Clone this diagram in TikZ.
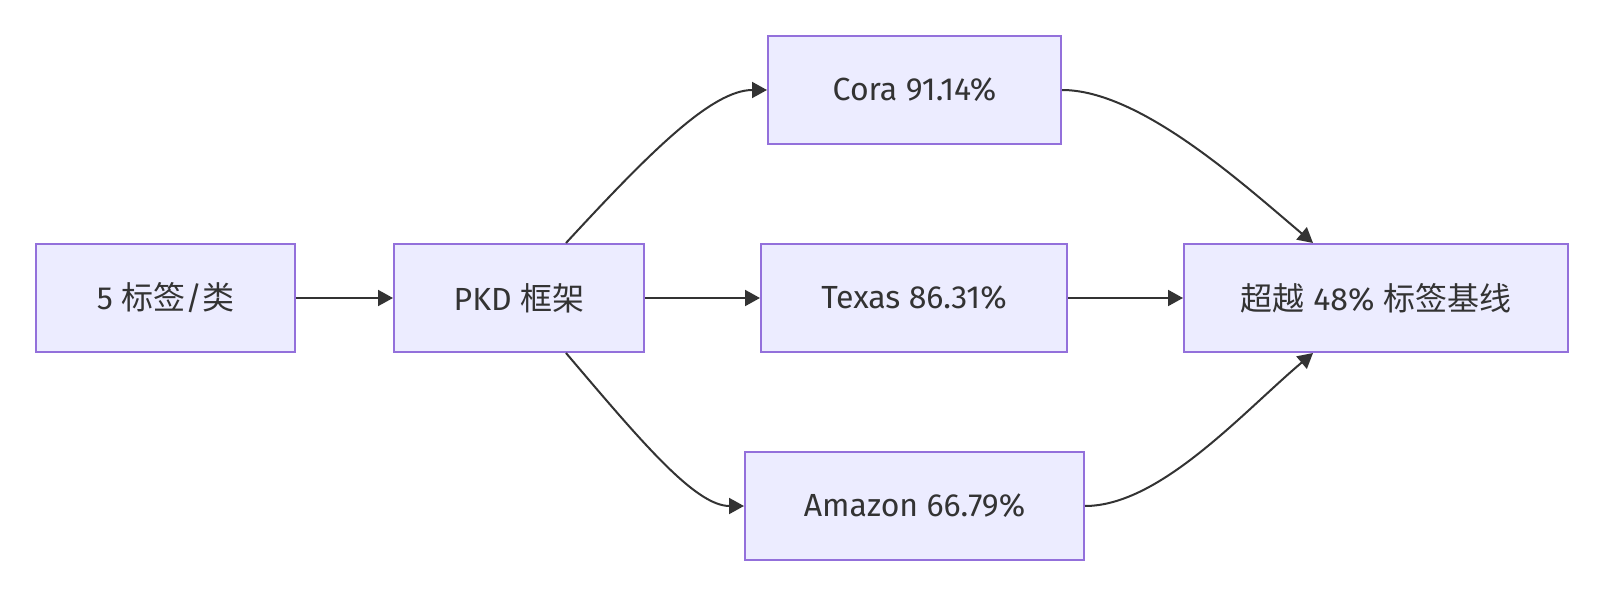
\documentclass[tikz,border=0pt]{standalone}
\usepackage{fontspec}
\setmainfont{Fira Sans}
\newfontfamily\cjk{Noto Sans CJK SC}
\usetikzlibrary{arrows.meta}
\definecolor{boxfill}{HTML}{ECECFF}
\definecolor{boxline}{HTML}{9370DB}
\definecolor{edgecol}{HTML}{333333}
\definecolor{txt}{HTML}{333333}
\tikzset{
  box/.style={draw=boxline, fill=boxfill, line width=2pt, minimum height=108pt,
    inner sep=0pt, text=txt, font=\fontsize{32}{38}\selectfont},
  edge/.style={draw=edgecol, line width=2pt, -{Triangle[length=15pt,width=16pt]}}
}
\begin{document}
\begin{tikzpicture}[x=1pt,y=-1pt]
\useasboundingbox (0,0) rectangle (1606,596);
\node[box, minimum width=259pt] (A) at (165.5,298) {5 {\cjk 标签}/{\cjk 类}};
\node[box, minimum width=250pt] (B) at (519,298) {PKD {\cjk 框架}};
\node[box, minimum width=293pt] (C) at (914.5,90) {Cora 91.14\%};
\node[box, minimum width=306pt] (T) at (914,298) {Texas 86.31\%};
\node[box, minimum width=339pt] (M) at (914.5,506) {Amazon 66.79\%};
\node[box, minimum width=384pt] (R) at (1376,298) {{\cjk 超越} 48\% {\cjk 标签基线}};
\draw[edge] (A) -- (B);
\draw[edge] (B) -- (T);
\draw[edge] (T) -- (R);
\draw[edge] ([xshift=47pt]B.north) .. controls (650,152) and (712,90) .. (C.west);
\draw[edge] ([xshift=47pt]B.south) .. controls (640,440) and (695,506) .. (M.west);
\draw[edge] (C.east) .. controls (1140,90) and (1243,184) .. ([xshift=-63pt]R.north);
\draw[edge] (M.east) .. controls (1160,506) and (1243,412) .. ([xshift=-63pt]R.south);
\end{tikzpicture}
\end{document}
